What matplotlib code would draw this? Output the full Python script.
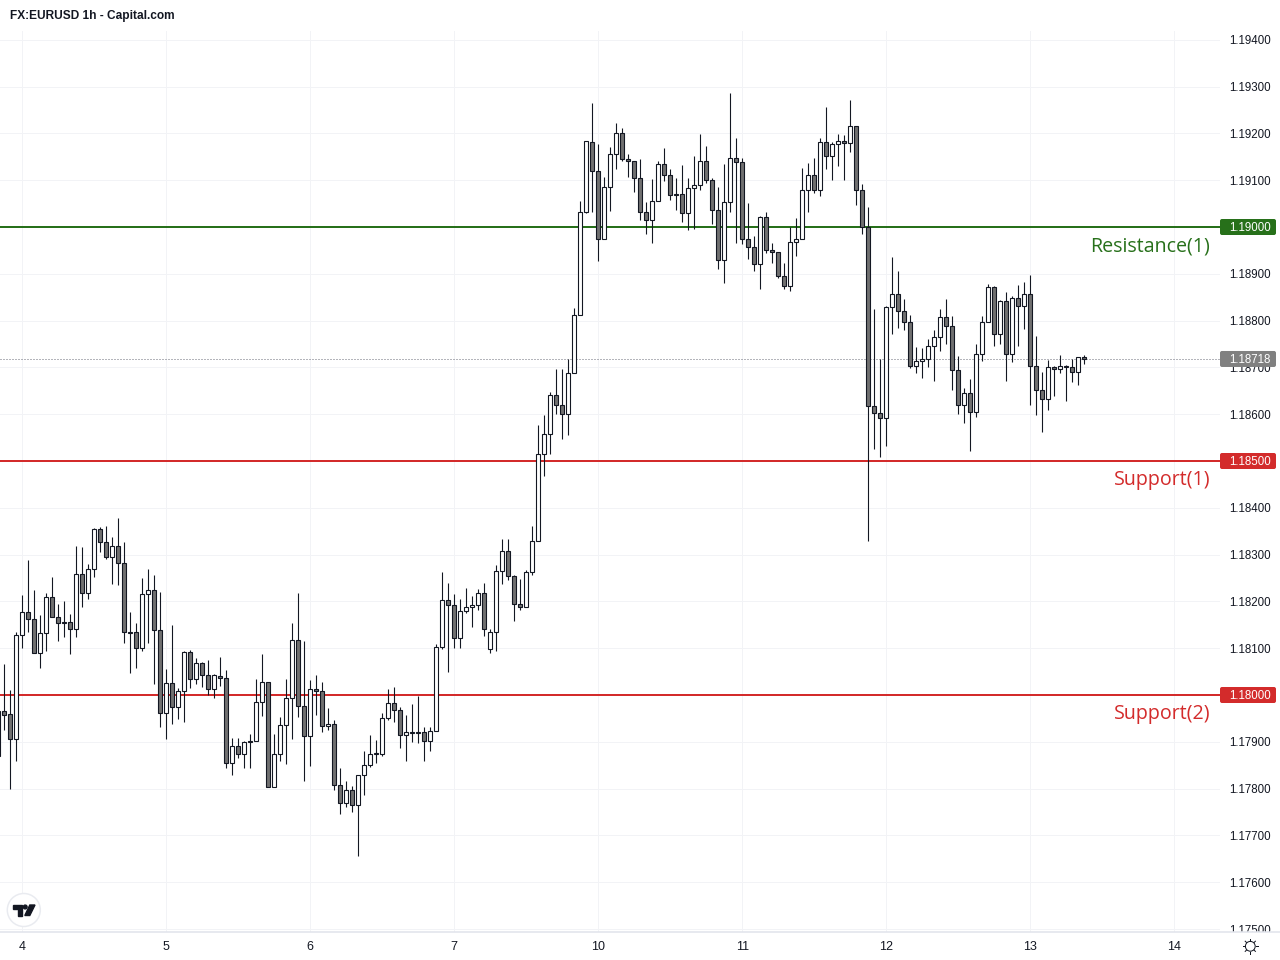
import math
import matplotlib
matplotlib.use("Agg")
import matplotlib.pyplot as plt
from matplotlib.patches import Circle, FancyBboxPatch, Polygon, Rectangle

# hourly candles, first bar is 4 hours before the "4" tick
opens = [
    1.17966, 1.17965, 1.17959, 1.17907, 1.18128, 1.18177, 1.18162, 1.18089, 1.18132, 1.18209,
    1.18166, 1.18155, 1.18155, 1.18140, 1.18258, 1.18219, 1.18269, 1.18354, 1.18326, 1.18294,
    1.18318, 1.18283, 1.18135, 1.18134, 1.18100, 1.18215, 1.18224, 1.18138, 1.17961, 1.18025,
    1.17974, 1.18008, 1.18091, 1.18034, 1.18068, 1.18042, 1.18012, 1.18041, 1.18036, 1.17854,
    1.17890, 1.17875, 1.17901, 1.17901, 1.17986, 1.18027, 1.17803, 1.17875, 1.17935, 1.17993,
    1.18117, 1.17976, 1.17912, 1.18012, 1.18008, 1.17933, 1.17939, 1.17807, 1.17769, 1.17796,
    1.17764, 1.17828, 1.17850, 1.17875, 1.17875, 1.17950, 1.17982, 1.17969, 1.17914, 1.17922,
    1.17920, 1.17920, 1.17901, 1.17924, 1.18102, 1.18204, 1.18192, 1.18121, 1.18179, 1.18187,
    1.18192, 1.18219, 1.18098, 1.18134, 1.18264, 1.18307, 1.18254, 1.18194, 1.18187, 1.18262,
    1.18330, 1.18516, 1.18557, 1.18640, 1.18619, 1.18600, 1.18689, 1.18811, 1.19033, 1.19181,
    1.19119, 1.18974, 1.19085, 1.19157, 1.19200, 1.19145, 1.19140, 1.19104, 1.19033, 1.19014,
    1.19055, 1.19134, 1.19112, 1.19070, 1.19070, 1.19029, 1.19083, 1.19089, 1.19142, 1.19100,
    1.19036, 1.18929, 1.19053, 1.19147, 1.19138, 1.18974, 1.18957, 1.18920, 1.19021, 1.18950,
    1.18946, 1.18895, 1.18875, 1.18967, 1.18974, 1.19080, 1.19112, 1.19078, 1.19181, 1.19151,
    1.19177, 1.19183, 1.19179, 1.19215, 1.19078, 1.19001, 1.18617, 1.18602, 1.18591, 1.18828,
    1.18856, 1.18820, 1.18796, 1.18704, 1.18713, 1.18719, 1.18745, 1.18764, 1.18807, 1.18788,
    1.18694, 1.18619, 1.18645, 1.18604, 1.18728, 1.18796, 1.18871, 1.18771, 1.18841, 1.18728,
    1.18848, 1.18831, 1.18856, 1.18704, 1.18651, 1.18632, 1.18700, 1.18696, 1.18702, 1.18700,
    1.18690, 1.18722,
]
highs = [
    1.17980, 1.18066, 1.18010, 1.18134, 1.18214, 1.18288, 1.18224, 1.18171, 1.18217, 1.18252,
    1.18194, 1.18201, 1.18173, 1.18318, 1.18316, 1.18280, 1.18357, 1.18359, 1.18361, 1.18338,
    1.18378, 1.18327, 1.18177, 1.18154, 1.18250, 1.18269, 1.18256, 1.18220, 1.18056, 1.18150,
    1.18015, 1.18093, 1.18096, 1.18079, 1.18070, 1.18075, 1.18044, 1.18081, 1.18053, 1.17908,
    1.17908, 1.17902, 1.17917, 1.18034, 1.18088, 1.18027, 1.17917, 1.17953, 1.18034, 1.18154,
    1.18218, 1.18115, 1.18032, 1.18043, 1.18028, 1.17972, 1.17946, 1.17844, 1.17816, 1.17806,
    1.17830, 1.17880, 1.17915, 1.17904, 1.17962, 1.18013, 1.18017, 1.17974, 1.17957, 1.17981,
    1.17998, 1.17932, 1.17932, 1.18108, 1.18263, 1.18239, 1.18216, 1.18205, 1.18229, 1.18212,
    1.18226, 1.18239, 1.18142, 1.18278, 1.18333, 1.18333, 1.18256, 1.18248, 1.18267, 1.18361,
    1.18577, 1.18598, 1.18647, 1.18697, 1.18697, 1.18718, 1.18826, 1.19056, 1.19183, 1.19265,
    1.19177, 1.19106, 1.19171, 1.19222, 1.19212, 1.19157, 1.19140, 1.19145, 1.19053, 1.19103,
    1.19142, 1.19169, 1.19125, 1.19105, 1.19132, 1.19104, 1.19152, 1.19198, 1.19173, 1.19104,
    1.19085, 1.19135, 1.19286, 1.19190, 1.19147, 1.19051, 1.18981, 1.19023, 1.19032, 1.18966,
    1.18946, 1.18923, 1.19001, 1.19019, 1.19126, 1.19137, 1.19147, 1.19190, 1.19256, 1.19182,
    1.19199, 1.19197, 1.19271, 1.19215, 1.19092, 1.19043, 1.18825, 1.18718, 1.18831, 1.18936,
    1.18906, 1.18846, 1.18812, 1.18744, 1.18742, 1.18761, 1.18780, 1.18825, 1.18846, 1.18810,
    1.18724, 1.18656, 1.18675, 1.18750, 1.18810, 1.18878, 1.18874, 1.18844, 1.18861, 1.18853,
    1.18876, 1.18883, 1.18898, 1.18767, 1.18690, 1.18716, 1.18704, 1.18727, 1.18705, 1.18718,
    1.18722, 1.18727,
]
lows = [
    1.17860, 1.17925, 1.17800, 1.17860, 1.18101, 1.18135, 1.18089, 1.18058, 1.18095, 1.18166,
    1.18116, 1.18123, 1.18088, 1.18125, 1.18189, 1.18206, 1.18253, 1.18305, 1.18290, 1.18238,
    1.18236, 1.18112, 1.18048, 1.18058, 1.18095, 1.18112, 1.18024, 1.17932, 1.17905, 1.17939,
    1.17949, 1.17943, 1.18016, 1.18024, 1.18018, 1.18001, 1.17994, 1.18020, 1.17845, 1.17828,
    1.17866, 1.17843, 1.17845, 1.17901, 1.17956, 1.17803, 1.17803, 1.17859, 1.17853, 1.17907,
    1.17954, 1.17817, 1.17849, 1.17958, 1.17920, 1.17926, 1.17798, 1.17746, 1.17761, 1.17749,
    1.17657, 1.17787, 1.17847, 1.17855, 1.17870, 1.17947, 1.17942, 1.17887, 1.17858, 1.17900,
    1.17898, 1.17858, 1.17881, 1.17924, 1.18099, 1.18050, 1.18101, 1.18101, 1.18176, 1.18146,
    1.18182, 1.18126, 1.18090, 1.18095, 1.18238, 1.18246, 1.18159, 1.18182, 1.18187, 1.18256,
    1.18330, 1.18469, 1.18516, 1.18601, 1.18548, 1.18556, 1.18689, 1.18811, 1.19029, 1.19033,
    1.18928, 1.18974, 1.19035, 1.19125, 1.19140, 1.19107, 1.19075, 1.19016, 1.18984, 1.18966,
    1.19055, 1.19099, 1.19058, 1.19037, 1.19011, 1.18994, 1.18996, 1.19080, 1.19093, 1.19007,
    1.18911, 1.18881, 1.19031, 1.18966, 1.18964, 1.18932, 1.18905, 1.18868, 1.18945, 1.18924,
    1.18890, 1.18868, 1.18864, 1.18937, 1.18974, 1.19033, 1.19073, 1.19067, 1.19125, 1.19101,
    1.19131, 1.19101, 1.19161, 1.19048, 1.18984, 1.18328, 1.18526, 1.18509, 1.18531, 1.18772,
    1.18785, 1.18779, 1.18698, 1.18687, 1.18678, 1.18700, 1.18670, 1.18734, 1.18751, 1.18652,
    1.18601, 1.18582, 1.18522, 1.18593, 1.18714, 1.18796, 1.18746, 1.18751, 1.18670, 1.18712,
    1.18746, 1.18783, 1.18620, 1.18599, 1.18563, 1.18610, 1.18638, 1.18687, 1.18629, 1.18669,
    1.18663, 1.18708,
]
closes = [
    1.17870, 1.17958, 1.17907, 1.18128, 1.18177, 1.18162, 1.18089, 1.18132, 1.18209, 1.18166,
    1.18153, 1.18153, 1.18140, 1.18258, 1.18219, 1.18269, 1.18354, 1.18326, 1.18294, 1.18318,
    1.18283, 1.18134, 1.18133, 1.18100, 1.18215, 1.18224, 1.18138, 1.17961, 1.18025, 1.17974,
    1.18008, 1.18091, 1.18034, 1.18068, 1.18042, 1.18012, 1.18042, 1.18036, 1.17854, 1.17890,
    1.17875, 1.17899, 1.17899, 1.17986, 1.18027, 1.17803, 1.17875, 1.17935, 1.17993, 1.18117,
    1.17976, 1.17912, 1.18012, 1.18008, 1.17933, 1.17939, 1.17807, 1.17769, 1.17796, 1.17764,
    1.17828, 1.17850, 1.17875, 1.17876, 1.17950, 1.17982, 1.17969, 1.17914, 1.17922, 1.17918,
    1.17918, 1.17901, 1.17924, 1.18102, 1.18204, 1.18192, 1.18121, 1.18179, 1.18187, 1.18192,
    1.18219, 1.18140, 1.18134, 1.18264, 1.18307, 1.18254, 1.18194, 1.18187, 1.18262, 1.18330,
    1.18516, 1.18557, 1.18640, 1.18619, 1.18600, 1.18689, 1.18811, 1.19033, 1.19183, 1.19119,
    1.18974, 1.19085, 1.19157, 1.19200, 1.19145, 1.19140, 1.19104, 1.19033, 1.19014, 1.19055,
    1.19134, 1.19112, 1.19068, 1.19068, 1.19029, 1.19083, 1.19089, 1.19142, 1.19100, 1.19036,
    1.18929, 1.19053, 1.19147, 1.19138, 1.18974, 1.18957, 1.18920, 1.19021, 1.18950, 1.18946,
    1.18895, 1.18875, 1.18967, 1.18974, 1.19080, 1.19112, 1.19078, 1.19181, 1.19151, 1.19177,
    1.19183, 1.19179, 1.19215, 1.19078, 1.19001, 1.18617, 1.18602, 1.18591, 1.18828, 1.18856,
    1.18820, 1.18796, 1.18704, 1.18713, 1.18719, 1.18745, 1.18764, 1.18807, 1.18788, 1.18694,
    1.18619, 1.18645, 1.18604, 1.18728, 1.18796, 1.18871, 1.18771, 1.18841, 1.18728, 1.18848,
    1.18831, 1.18856, 1.18704, 1.18651, 1.18632, 1.18700, 1.18696, 1.18702, 1.18700, 1.18690,
    1.18722, 1.18718,
]
first_bar = -4
day_labels = ["4", "5", "6", "7", "10", "11", "12", "13", "14"]
day_bars = [0, 24, 48, 72, 96, 120, 144, 168, 192]
price_ticks = [1.175 + 0.001 * i for i in range(20)]
title = "FX:EURUSD 1h - Capital.com"
levels = [1.19, 1.185, 1.18]
level_names = ["Resistance(1)", "Support(1)", "Support(2)"]
level_colors = ["#27701a", "#d32b2b", "#d32b2b"]
last_price = 1.18718

BLACK = "#131722"
GRID = "#f2f3f6"
W, H = 1280, 960
PX = 0.72  # 1 px in points at dpi 100
TXT = ["Liberation Sans", "DejaVu Sans"]

fig = plt.figure(figsize=(12.8, 9.6), dpi=100)
ax = fig.add_axes([0, (H - 932) / H, 1220 / W, 901 / H])
ax.set_xlim(-22.3 / 6, (1220 - 22.3) / 6)
ax.set_ylim(1.19 - 705 / 46800, 1.19 + 196 / 46800)

bars = [first_bar + i for i in range(len(opens))]
ax.vlines(bars, lows, highs, color=BLACK, linewidth=1.1 * PX, zorder=3)
bottoms = [min(o, c) for o, c in zip(opens, closes)]
sizes = [abs(o - c) for o, c in zip(opens, closes)]
fills = ["#ffffff" if c >= o else "#707070" for o, c in zip(opens, closes)]
ax.bar(bars, sizes, bottom=bottoms, width=4 / 6, color=fills, edgecolor=BLACK,
       linewidth=1.1 * PX, zorder=4)

for lev, col in zip(levels, level_colors):
    ax.axhline(lev, color=col, linewidth=2 * PX, zorder=2)
ax.axhline(last_price, color="#6a6d78", linewidth=PX, linestyle=(0, (1, 2)), zorder=2)

ax.set_xticks(day_bars, day_labels, family=TXT, fontsize=9, color=BLACK)
ax.set_yticks(price_ticks, ["%.5f" % p for p in price_ticks], family=TXT, fontsize=8.3, color=BLACK)
ax.yaxis.tick_right()
ax.tick_params(axis="x", length=0, pad=6.5)
ax.tick_params(axis="y", length=0, pad=6.3)
ax.grid(color=GRID, linewidth=PX, zorder=0)
ax.set_axisbelow(True)
for s in ax.spines.values():
    s.set_visible(False)

# overlay in pixel coordinates for tags, logo and the little icons
ov = fig.add_axes([0, 0, 1, 1], zorder=10)
ov.set_xlim(0, W)
ov.set_ylim(H, 0)
ov.axis("off")
ov.patch.set_alpha(0)


def price_y(p):
    return H - ax.transData.transform((0, p))[1]


ov.add_patch(Rectangle((1222, 932), 58, 28, color="white", zorder=1))
ov.plot([0, 1280], [932, 932], color="#e0e3eb", linewidth=1.5 * PX, zorder=2)

for lev, name, col in zip(levels, level_names, level_colors):
    y = price_y(lev)
    ov.add_patch(FancyBboxPatch((1221, y - 7), 54, 14, boxstyle="round,pad=1,rounding_size=2",
                                facecolor=col, edgecolor="none", zorder=3))
    ov.text(1250, y + 1, "%.5f" % lev, color="white", family=TXT, fontsize=8.3,
            ha="center", va="center", zorder=4)
    ov.text(1210, y + 19, name, color=col, family=["Open Sans", "DejaVu Sans"], fontsize=14.1,
            ha="right", va="center", zorder=4)

y = price_y(last_price)
ov.add_patch(FancyBboxPatch((1221, y - 7), 54, 14, boxstyle="round,pad=1,rounding_size=2",
                            facecolor="#808080", edgecolor="none", zorder=3))
ov.text(1250, y + 1, "%.5f" % last_price, color="white", family=TXT, fontsize=8.3,
        ha="center", va="center", zorder=4)

ov.text(10, 16, title, color=BLACK, family=TXT, fontsize=8.55, fontweight="bold",
        ha="left", va="center")

# TradingView badge
ov.add_patch(Circle((23.8, 910), 16.5, facecolor="white", edgecolor="#e9ebf0", linewidth=1.5 * PX))
ov.add_patch(Polygon([(13.2, 905), (22, 905), (22, 915.5), (17.8, 915.5), (17.8, 909), (13.2, 909)],
                     color=BLACK))
ov.add_patch(Circle((25.2, 907), 1.9, color=BLACK))
ov.add_patch(Polygon([(29.8, 905), (35, 905), (29.8, 915.5), (24.8, 915.5)], color=BLACK))

# settings icon
ov.add_patch(Circle((1250.3, 946.3), 4.9, facecolor="none", edgecolor=BLACK, linewidth=PX))
for i in range(8):
    a = i * math.pi / 4
    ov.plot([1250.3 + 5.4 * math.cos(a), 1250.3 + 7.2 * math.cos(a)],
            [946.3 + 5.4 * math.sin(a), 946.3 + 7.2 * math.sin(a)], color=BLACK, linewidth=PX)

fig.savefig("out.png", dpi=100, facecolor="white")
